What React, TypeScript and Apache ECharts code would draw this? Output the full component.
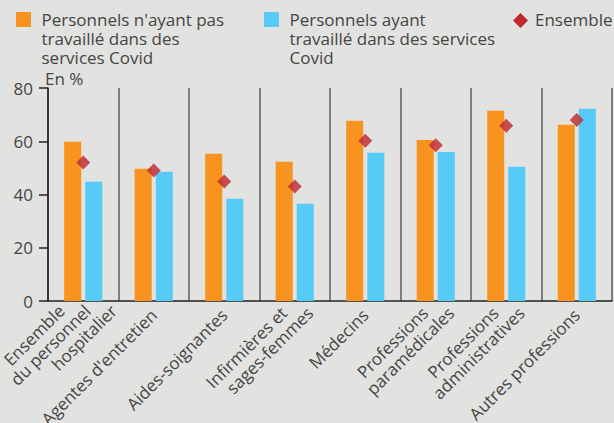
import React, { useEffect, useRef } from 'react';
import * as echarts from 'echarts';

const categories = [
  'Ensemble\ndu personnel\nhospitalier',
  "Agentes d'entretien",
  'Aides-soignantes',
  'Infirmières et\nsages-femmes',
  'Médecins',
  'Professions\nparamédicales',
  'Professions\nadministratives',
  'Autres professions',
];
const nonCovidValues = [59.8, 49.7, 55.3, 52.3, 67.7, 60.5, 71.5, 66.2];
const covidValues = [44.8, 48.5, 38.4, 36.5, 55.7, 56.0, 50.4, 72.2];
const ensembleValues = [52.0, 49.0, 44.9, 43.0, 60.2, 58.5, 65.8, 68.0];
const yMin = 0;
const yMax = 80;
const yStep = 20;

const seriesNames = [
  "Personnels n'ayant pas travaillé dans des services Covid",
  'Personnels ayant travaillé dans des services Covid',
  'Ensemble',
];
const legendTexts = [
  "Personnels n'ayant pas\ntravaillé dans des\nservices Covid",
  'Personnels ayant\ntravaillé dans des services\nCovid',
  'Ensemble',
];

const FONT = "'Open Sans', 'Noto Sans', sans-serif";
const FS = 17;
const TEXT = '#454545';
const ORANGE = '#f7931e';
const BLUE = '#56cbf5';
const RED = '#c1272d';
const BG = '#e2e2e0';

export default function App() {
  const ref = useRef<HTMLDivElement>(null);
  useEffect(() => {
    if (!ref.current) return;
    const chart = echarts.init(ref.current, null, { renderer: 'svg' });
    const LH = 18.5;
    const richLine = (pad: number) => ({
      align: 'right',
      padding: [0, pad, 0, 0],
      fontSize: FS,
      lineHeight: LH,
      fontFamily: FONT,
      color: TEXT,
    });
    const xData = categories.map((c) => {
      const n = c.split('\n').length;
      const shift = ((n - 1) * LH) / 2 + (n - 1) * 3;
      return { value: c, textStyle: { padding: [0, -shift, 0, 0] } };
    });
    chart.setOption({
      animation: false,
      backgroundColor: BG,
      textStyle: { fontFamily: FONT },
      grid: { left: 48, right: 2, top: 88, bottom: 122, containLabel: false, outerBoundsMode: 'none' },
      xAxis: {
        type: 'category',
        data: xData,
        boundaryGap: true,
        axisLine: { show: true, lineStyle: { color: '#222', width: 1.5 } },
        axisTick: { show: false },
        splitLine: { show: true, interval: 0, lineStyle: { color: '#5c5c5c', width: 1.5 } },
        axisLabel: {
          interval: 0,
          rotate: 45,
          margin: 11,
          formatter: (v: string) => {
            const lines = v.split('\n');
            const n = lines.length;
            return lines.map((l, i) => `{p${n - 1 - i}|${l}}`).join('\n');
          },
          rich: { p0: richLine(0), p1: richLine(LH), p2: richLine(2 * LH) },
        },
      },
      yAxis: {
        type: 'value',
        min: yMin,
        max: yMax,
        interval: yStep,
        name: 'En %',
        nameLocation: 'end',
        nameGap: 3,
        nameTextStyle: { fontSize: FS, lineHeight: 14, color: TEXT, fontFamily: FONT, align: 'left', padding: [0, 0, 0, -3] },
        axisLine: { show: true, lineStyle: { color: '#222', width: 1.5 } },
        axisTick: { show: true, length: 9, lineStyle: { color: '#222', width: 1.5 } },
        splitLine: { show: false },
        axisLabel: { fontSize: FS, color: TEXT, fontFamily: FONT, margin: 15 },
      },
      series: [
        {
          name: seriesNames[0],
          type: 'bar',
          data: nonCovidValues,
          barWidth: 17,
          barGap: '24%',
          itemStyle: { color: ORANGE },
        },
        {
          name: seriesNames[1],
          type: 'bar',
          data: covidValues,
          barWidth: 17,
          barGap: '24%',
          itemStyle: { color: BLUE },
        },
        {
          name: seriesNames[2],
          type: 'scatter',
          data: ensembleValues,
          symbol: 'diamond',
          symbolSize: 14,
          itemStyle: { color: RED },
          z: 5,
        },
      ],
      graphic: [
        { type: 'rect', shape: { x: 16, y: 12, width: 15, height: 15 }, style: { fill: ORANGE } },
        {
          type: 'text',
          x: 41.5,
          y: 10,
          style: { text: legendTexts[0], font: `${FS}px ${FONT}`, lineHeight: 19, fill: TEXT, verticalAlign: 'top' },
        },
        { type: 'rect', shape: { x: 264, y: 12, width: 15, height: 15 }, style: { fill: BLUE } },
        {
          type: 'text',
          x: 289.5,
          y: 10,
          style: { text: legendTexts[1], font: `${FS}px ${FONT}`, lineHeight: 19, fill: TEXT, verticalAlign: 'top' },
        },
        {
          type: 'polygon',
          shape: { points: [[520.5, 13], [528, 20.5], [520.5, 28], [513, 20.5]] },
          style: { fill: RED },
        },
        {
          type: 'text',
          x: 535,
          y: 10,
          style: { text: legendTexts[2], font: `${FS}px ${FONT}`, lineHeight: 19, fill: TEXT, verticalAlign: 'top' },
        },
      ],
    });
    return () => chart.dispose();
  }, []);
  return <div ref={ref} style={{ width: 614, height: 423, position: 'absolute', left: 0, top: 0 }} />;
}
